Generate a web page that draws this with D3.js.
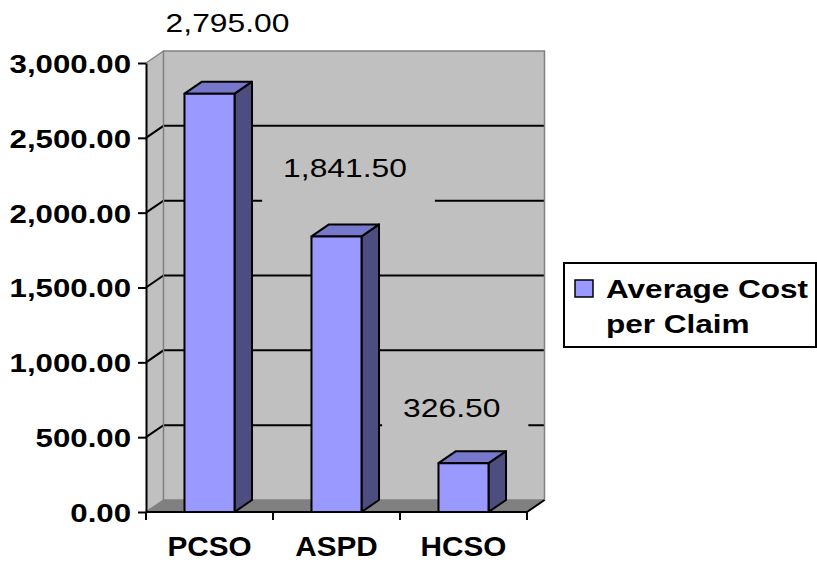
<!DOCTYPE html>
<html>
<head>
<meta charset="utf-8">
<script src="https://cdn.jsdelivr.net/npm/d3@7"></script>
<style>
  html, body { margin: 0; padding: 0; background: #fff; }
  svg { display: block; font-family: "Liberation Sans", Arial, sans-serif; }
</style>
</head>
<body>
<svg id="chart" width="817" height="565"></svg>
<script>
// ---- data ----
const categories = ["PCSO", "ASPD", "HCSO"];
const values = [2795.00, 1841.50, 326.50];
const yTicks = [0, 500, 1000, 1500, 2000, 2500, 3000];
const legendLines = ["Average Cost", "per Claim"];

// ---- layout ----
const plot = { left: 146, right: 527, top: 63, bottom: 512 };
const depth = { dx: 17.5, dy: -12 };
const SX = 1.2;             // horizontal stretch of the text
const labelNudge = [[18, -62], [8.5, -59.4], [-11.8, -46.4]];

const colors = {
  wall: "#c0c0c0", wallEdge: "#808080", floor: "#808080",
  front: "#9999ff", top: "#7777cc", side: "#4d4d80"
};

const svg = d3.select("#chart");

const x = d3.scaleBand().domain(categories).range([plot.left, plot.right])
  .paddingInner(0.606).paddingOuter(0.303);
const y = d3.scaleLinear().domain([0, 3000]).range([plot.bottom, plot.top]);
const fmt = d3.format(",.2f");

const bx0 = plot.left + depth.dx, bx1 = plot.right + depth.dx;
const yTop = y(3000), yBot = y(0);

// back wall
svg.append("rect")
  .attr("x", bx0).attr("y", yTop + depth.dy)
  .attr("width", bx1 - bx0).attr("height", yBot - yTop)
  .attr("fill", colors.wall);
// side wall
svg.append("path")
  .attr("d", `M${plot.left},${yTop}L${bx0},${yTop + depth.dy}L${bx0},${yBot + depth.dy}L${plot.left},${yBot}Z`)
  .attr("fill", colors.wall);
// floor
svg.append("path")
  .attr("d", `M${plot.left},${yBot}L${plot.right},${yBot}L${bx1},${yBot + depth.dy}L${bx0},${yBot + depth.dy}Z`)
  .attr("fill", colors.floor);

// gridlines (side + back)
const grid = svg.append("g");
yTicks.filter(t => t > 0 && t < 3000).forEach(t => {
  grid.append("path")
    .attr("d", `M${plot.left},${y(t)}L${bx0},${y(t) + depth.dy}L${bx1},${y(t) + depth.dy}`)
    .attr("fill", "none").attr("stroke", "#000").attr("stroke-width", 2);
});

// label boxes hiding gridlines (clipped to back wall)
svg.append("clipPath").attr("id", "wallclip").append("rect")
  .attr("x", bx0 + 1).attr("y", yTop + depth.dy + 1)
  .attr("width", bx1 - bx0 - 2).attr("height", yBot - yTop - 2);
const boxLayer = svg.append("g").attr("clip-path", "url(#wallclip)");

// wall edges
svg.append("rect")
  .attr("x", bx0).attr("y", yTop + depth.dy)
  .attr("width", bx1 - bx0).attr("height", yBot - yTop)
  .attr("fill", "none").attr("stroke", colors.wallEdge).attr("stroke-width", 1.5);
svg.append("path")
  .attr("d", `M${plot.left},${yTop}L${bx0},${yTop + depth.dy}`)
  .attr("stroke", colors.wallEdge).attr("stroke-width", 1.5);
svg.append("path")
  .attr("d", `M${plot.left},${yBot}L${bx0},${yBot + depth.dy}`)
  .attr("stroke", colors.wallEdge).attr("stroke-width", 1.5);
// floor front-right edge
svg.append("path")
  .attr("d", `M${plot.right},${yBot}L${bx1},${yBot + depth.dy}`)
  .attr("stroke", "#000").attr("stroke-width", 2);

// bars
const bw = x.bandwidth();
const bars = svg.append("g");
categories.forEach((c, i) => {
  const x0 = x(c), x1 = x0 + bw, yv = y(values[i]), yb = y(0);
  const g = bars.append("g").attr("stroke", "#000").attr("stroke-width", 2).attr("stroke-linejoin", "round");
  g.append("path").attr("fill", colors.side)
    .attr("d", `M${x1},${yv}L${x1 + depth.dx},${yv + depth.dy}L${x1 + depth.dx},${yb + depth.dy}L${x1},${yb}Z`);
  g.append("path").attr("fill", colors.top)
    .attr("d", `M${x0},${yv}L${x0 + depth.dx},${yv + depth.dy}L${x1 + depth.dx},${yv + depth.dy}L${x1},${yv}Z`);
  g.append("rect").attr("fill", colors.front)
    .attr("x", x0).attr("y", yv).attr("width", bw).attr("height", yb - yv);
});

// y axis
const yAxis = svg.append("g").attr("transform", `translate(${plot.left},0)`)
  .call(d3.axisLeft(y).tickValues(yTicks).tickFormat(fmt).tickSize(8).tickSizeOuter(0));
yAxis.select(".domain").attr("stroke", "#000").attr("stroke-width", 2);
yAxis.selectAll(".tick line").attr("stroke", "#000").attr("stroke-width", 2);
yAxis.selectAll(".tick text")
  .attr("x", 0).attr("dy", "0.36em")
  .attr("transform", `translate(-15,0) scale(${SX},1)`)
  .attr("font-size", 26).attr("font-weight", "bold")
  .attr("font-family", "'Liberation Sans', Arial, sans-serif").attr("fill", "#000");

// x axis line + ticks at category boundaries
const step = x.step();
const bounds = categories.map(c => x(c) - step * x.paddingInner() / 2).concat([plot.right]);
bounds[0] = plot.left;
svg.append("line").attr("x1", plot.left).attr("x2", plot.right)
  .attr("y1", y(0)).attr("y2", y(0)).attr("stroke", "#000").attr("stroke-width", 2);
svg.append("g").selectAll("line").data(bounds).join("line")
  .attr("x1", d => d).attr("x2", d => d)
  .attr("y1", y(0)).attr("y2", y(0) + 8)
  .attr("stroke", "#000").attr("stroke-width", 2);
svg.append("g").selectAll("g").data(categories).join("g")
  .attr("transform", c => `translate(${x(c) + bw / 2},556) scale(1.1,1)`)
  .append("text").attr("text-anchor", "middle")
  .attr("font-size", 27).attr("font-weight", "bold").text(c => c);

// value labels
categories.forEach((c, i) => {
  const cx = x(c) + bw / 2 + labelNudge[i][0];
  const by = y(values[i]) + labelNudge[i][1];
  const g = svg.append("g").attr("transform", `translate(${cx},${by}) scale(${SX},1)`);
  const t = g.append("text").attr("text-anchor", "middle")
    .attr("font-size", 26.5).attr("fill", "#000").text(fmt(values[i]));
  const w = t.node().getComputedTextLength() * SX;
  boxLayer.append("rect")
    .attr("x", cx - w / 2 - 21).attr("y", by - 30)
    .attr("width", w + 49).attr("height", 56)
    .attr("fill", colors.wall);
});

// legend
const leg = svg.append("g");
leg.append("rect").attr("x", 564).attr("y", 263).attr("width", 252).attr("height", 84)
  .attr("fill", "#fff").attr("stroke", "#000").attr("stroke-width", 2);
leg.append("rect").attr("x", 575).attr("y", 280).attr("width", 18).attr("height", 17)
  .attr("fill", colors.front).attr("stroke", "#000").attr("stroke-width", 1.5);
legendLines.forEach((s, i) => {
  leg.append("g").attr("transform", `translate(606,${298 + i * 35}) scale(1.19,1)`)
    .append("text").attr("font-size", 26.5).attr("font-weight", "bold").text(s);
});
</script>
</body>
</html>
